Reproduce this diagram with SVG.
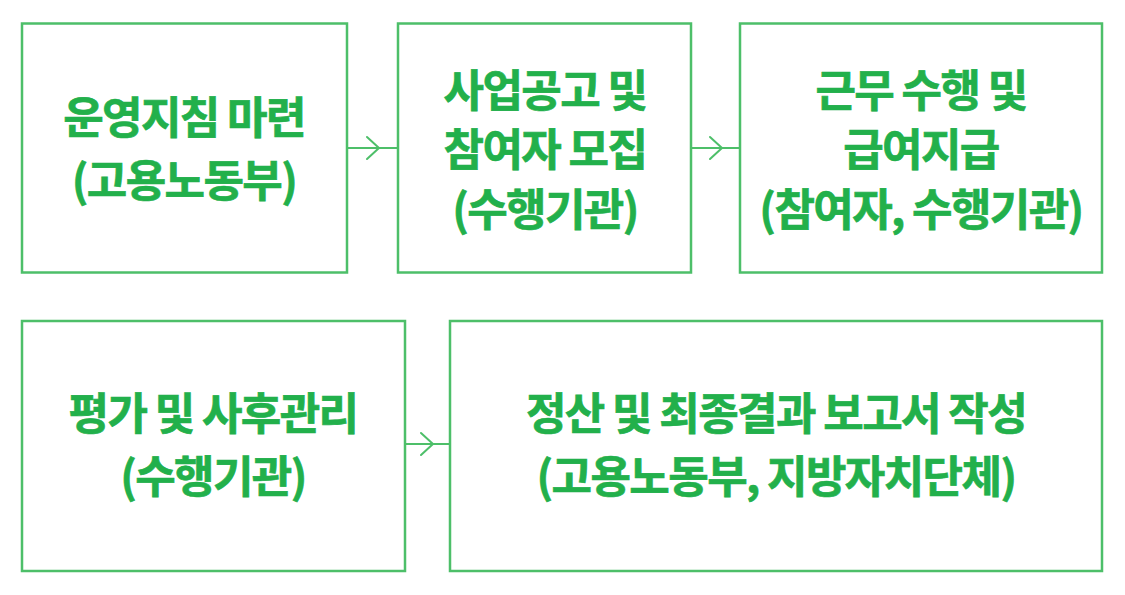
<svg xmlns="http://www.w3.org/2000/svg" width="1125" height="595" viewBox="0 0 1125 595">
  <style>
    .box { fill: #ffffff; stroke: #4dbf69; stroke-width: 2.5; }
    .lbl { fill: #22b04b; stroke: #22b04b; stroke-width: 0.7px; font-family: "Noto Sans CJK KR", "Noto Sans", sans-serif; font-weight: 700; font-size: 44px; letter-spacing: -1.6px; text-anchor: middle; }
    .conn { fill: none; stroke: #4dbf69; stroke-width: 2; stroke-linecap: round; stroke-linejoin: round; }
  </style>
  <rect x="0" y="0" width="1125" height="595" fill="#ffffff"/>

  <g id="connectors">
    <path class="conn" d="M347 148 H398 M367 137 L379 148 L367 159"/>
    <path class="conn" d="M691 148 H740 M710 137 L722 148 L710 159"/>
    <path class="conn" d="M405 444 H450 M421 433 L433 444 L421 455"/>
  </g>

  <g id="node1">
    <rect class="box" x="22" y="23.5" width="325" height="249"/>
    <text class="lbl" x="184" y="134">운영지침 마련</text>
    <text class="lbl" x="184" y="197">(고용노동부)</text>
  </g>

  <g id="node2">
    <rect class="box" x="398" y="23.5" width="293" height="249"/>
    <text class="lbl" x="545" y="107">사업공고 및</text>
    <text class="lbl" x="545" y="166">참여자 모집</text>
    <text class="lbl" x="545" y="226">(수행기관)</text>
  </g>

  <g id="node3">
    <rect class="box" x="740" y="23.5" width="362" height="249"/>
    <text class="lbl" x="921" y="107">근무 수행 및</text>
    <text class="lbl" x="921" y="166">급여지급</text>
    <text class="lbl" x="921" y="226">(참여자, 수행기관)</text>
  </g>

  <g id="node4">
    <rect class="box" x="22" y="321" width="383" height="250"/>
    <text class="lbl" x="213" y="430">평가 및 사후관리</text>
    <text class="lbl" x="213" y="493">(수행기관)</text>
  </g>

  <g id="node5">
    <rect class="box" x="450" y="321" width="652" height="250"/>
    <text class="lbl" x="776" y="430">정산 및 최종결과 보고서 작성</text>
    <text class="lbl" x="776" y="493">(고용노동부, 지방자치단체)</text>
  </g>
</svg>
